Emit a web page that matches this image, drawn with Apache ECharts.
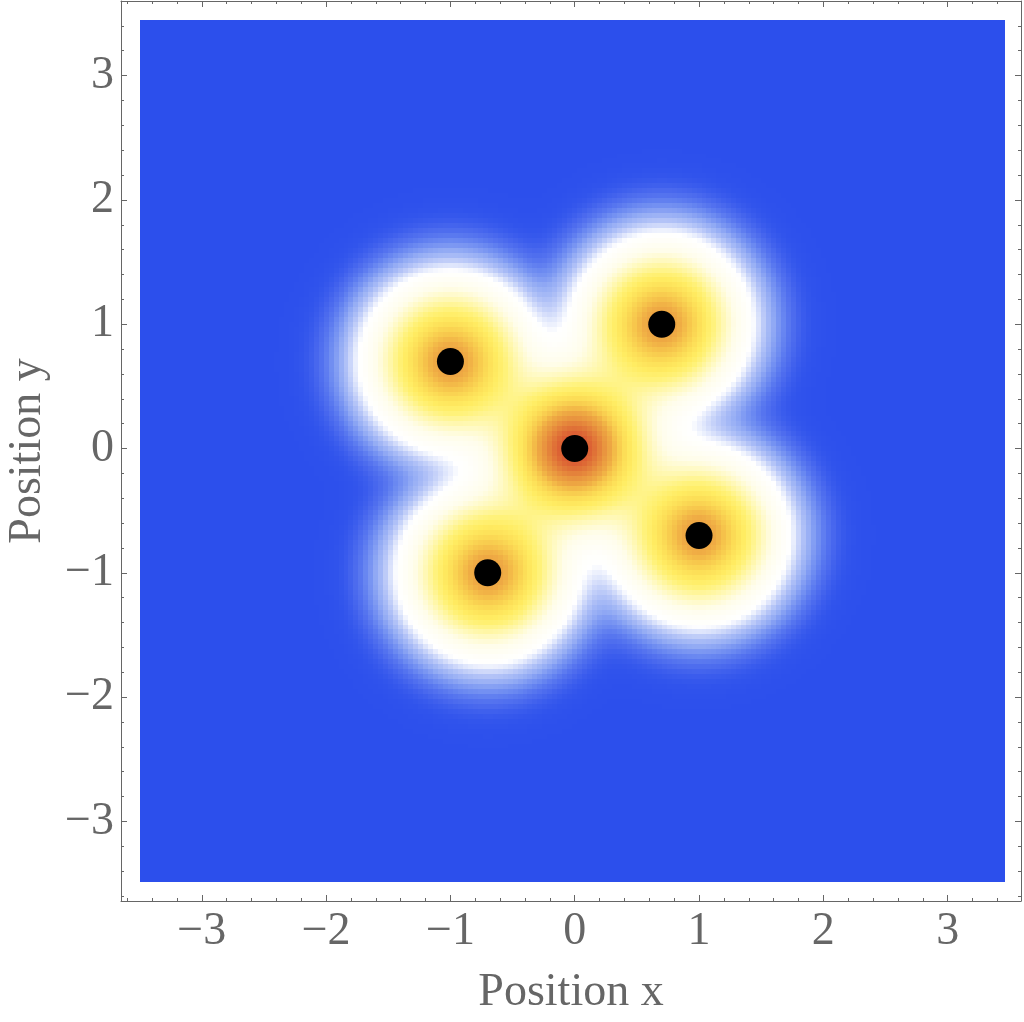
<!DOCTYPE html>
<html><head><meta charset="utf-8">
<script src="https://cdn.jsdelivr.net/npm/echarts@6/dist/echarts.min.js"></script>
<style>html,body{margin:0;padding:0;background:#fff}#c{width:1024px;height:1022px}</style>
</head><body><div id="c"></div>
<script>
// ---- data ----
const DOT_X = [0, 0.7, -1.0, 1.0, -0.7];
const DOT_Y = [0, 1.0, 0.7, -0.7, -1.0];
const LOBE_AMP = [1.35, 1, 1, 1, 1];
const LOBE_SIGMA = 0.33;
const X_RANGE = [-3.65, 3.59];
const Y_RANGE = [-3.64, 3.60];
const FIELD_X = [-3.5, 3.46];
const FIELD_Y = [-3.49, 3.45];
const FIELD_N = 174;
const MAJOR_TICKS = [-3, -2, -1, 0, 1, 2, 3];
const MINOR_TICKS = [-3.6, -3.4, -3.2, -2.8, -2.6, -2.4, -2.2, -1.8, -1.6, -1.4, -1.2,
  -0.8, -0.6, -0.4, -0.2, 0.2, 0.4, 0.6, 0.8, 1.2, 1.4, 1.6, 1.8, 2.2, 2.4, 2.6, 2.8,
  3.2, 3.4];
const STOP_V = [0, 0.0012, 0.005, 0.013, 0.025, 0.045, 0.065, 0.085, 0.2, 0.32, 0.45, 0.55, 0.68, 0.82, 0.92, 1.02, 1.15, 1.28, 1.4];
const STOP_C = ['#2c4fec', '#3154ec', '#4a69ee', '#6c8af1', '#93abf4', '#bccaf8', '#e3e9fc', '#ffffff',
  '#fffdea', '#fff8b4', '#fff27a', '#ffec62', '#fcdd56', '#f6c44b', '#efab44', '#ea9a40', '#e37e3a', '#db5e33', '#d4432c'];

const FONT = 'Liberation Serif';
const GREY = '#666666';

function hexRgb(h) { return [parseInt(h.substr(1,2),16), parseInt(h.substr(3,2),16), parseInt(h.substr(5,2),16)]; }
const STOP_RGB = STOP_C.map(hexRgb);
function colorAt(v) {
  if (v <= STOP_V[0]) return STOP_C[0];
  for (let i = 1; i < STOP_V.length; i++) {
    if (v <= STOP_V[i]) {
      const t = (v - STOP_V[i-1]) / (STOP_V[i] - STOP_V[i-1]);
      const a = STOP_RGB[i-1], b = STOP_RGB[i];
      return 'rgb(' + Math.round(a[0]+(b[0]-a[0])*t) + ',' + Math.round(a[1]+(b[1]-a[1])*t) + ',' + Math.round(a[2]+(b[2]-a[2])*t) + ')';
    }
  }
  return STOP_C[STOP_C.length-1];
}

const DX = (FIELD_X[1] - FIELD_X[0]) / FIELD_N;
const DY = (FIELD_Y[1] - FIELD_Y[0]) / FIELD_N;
const field = [];
for (let i = 0; i < FIELD_N; i++) {
  const x = FIELD_X[0] + (i + 0.5) * DX;
  for (let j = 0; j < FIELD_N; j++) {
    const y = FIELD_Y[0] + (j + 0.5) * DY;
    let v = 0;
    for (let k = 0; k < DOT_X.length; k++) {
      const r2 = (x - DOT_X[k]) ** 2 + (y - DOT_Y[k]) ** 2;
      v += LOBE_AMP[k] * Math.exp(-r2 / (2 * LOBE_SIGMA * LOBE_SIGMA));
    }
    field.push([x, y, v]);
  }
}
const dots = DOT_X.map((x, i) => [x, DOT_Y[i]]);

const fmt = v => v < 0 ? '\u2212' + (-v) : String(v);
const lineStyle = { color: GREY, width: 1 };
function axis(pos, isX, minor, withLabel) {
  const a = {
    type: 'value', position: pos, gridIndex: 0,
    min: isX ? X_RANGE[0] : Y_RANGE[0], max: isX ? X_RANGE[1] : Y_RANGE[1],
    axisLine: { show: !minor, onZero: false, lineStyle },
    axisTick: { show: true, inside: true, length: minor ? 3 : 6, customValues: minor ? MINOR_TICKS : MAJOR_TICKS, lineStyle },
    axisLabel: { show: !!withLabel, customValues: MAJOR_TICKS, formatter: fmt, fontFamily: FONT, fontSize: 46, color: GREY, margin: isX ? 8 : 7 },
    splitLine: { show: false }, minorTick: { show: false }
  };
  if (withLabel) {
    a.name = isX ? 'Position x' : 'Position y';
    a.nameLocation = 'middle';
    a.nameGap = isX ? 69 : 70;
    a.nameTextStyle = { fontFamily: FONT, fontSize: 46, color: GREY };
  }
  return a;
}

const chart = echarts.init(document.getElementById('c'), null, { renderer: 'canvas' });
chart.setOption({
  animation: false,
  backgroundColor: '#ffffff',
  grid: { left: 121, top: 1, width: 900, height: 900, containLabel: false, outerBoundsMode: 'none' },
  xAxis: [axis('bottom', true, false, true), axis('bottom', true, true), axis('top', true, false), axis('top', true, true)],
  yAxis: [axis('left', false, false, true), axis('left', false, true), axis('right', false, false), axis('right', false, true)],
  series: [
    {
      type: 'custom', xAxisIndex: 0, yAxisIndex: 0, data: field, silent: true, progressive: 0, z: 1,
      encode: { x: 0, y: 1 },
      renderItem(params, api) {
        const x = api.value(0), y = api.value(1), v = api.value(2);
        const a = api.coord([x - DX / 2, y + DY / 2]);
        const b = api.coord([x + DX / 2, y - DY / 2]);
        const x0 = Math.round(a[0]), y0 = Math.round(a[1]), x1 = Math.round(b[0]), y1 = Math.round(b[1]);
        return { type: 'rect', shape: { x: x0, y: y0, width: x1 - x0, height: y1 - y0 }, style: { fill: colorAt(v) } };
      }
    },
    {
      type: 'scatter', xAxisIndex: 0, yAxisIndex: 0, data: dots, symbol: 'circle', symbolSize: 27,
      itemStyle: { color: '#000000', opacity: 1 }, z: 10, silent: true
    }
  ]
});
</script></body></html>
